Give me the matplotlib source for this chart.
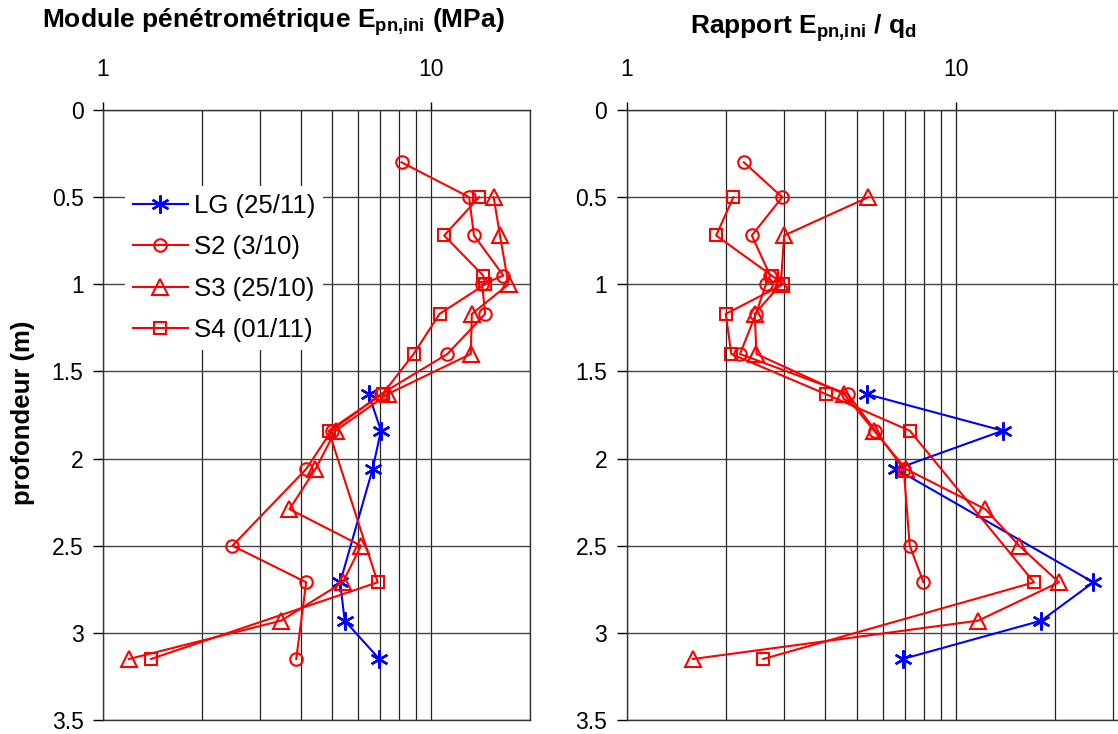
import numpy as np
import matplotlib
matplotlib.use("Agg")
import matplotlib.pyplot as plt
from matplotlib.ticker import LogLocator, FuncFormatter, NullFormatter, FixedLocator

plt.rcParams['font.family'] = ['Liberation Sans', 'DejaVu Sans']
plt.rcParams['mathtext.fontset'] = 'custom'
plt.rcParams['mathtext.rm'] = 'Liberation Sans'
plt.rcParams['mathtext.bf'] = 'Liberation Sans:bold'
plt.rcParams['mathtext.it'] = 'Liberation Sans:italic'

# ---------------- data ----------------
LG_label = "LG (25/11)"
LG_depth = [1.63, 1.84, 2.06, 2.71, 2.93, 3.15]
LG_E = [6.45, 7.03, 6.63, 5.28, 5.45, 6.95]
LG_ratio = [5.36, 13.9, 6.59, 26.2, 18.2, 6.90]

S2_label = "S2 (3/10)"
S2_depth = [0.30, 0.50, 0.72, 0.95, 1.00, 1.17, 1.40, 1.63, 1.84, 2.06, 2.50, 2.71, 3.15]
S2_E = [8.12, 13.05, 13.5, 16.6, 14.3, 14.6, 11.2, 7.03, 4.97, 4.16, 2.48, 4.16, 3.88]
S2_ratio = [2.27, 2.97, 2.40, 2.73, 2.65, 2.47, 2.21, 4.70, 5.70, 6.95, 7.25, 7.98, np.nan]

S3_label = "S3 (25/10)"
S3_depth = [0.50, 0.72, 1.00, 1.17, 1.40, 1.63, 1.84, 2.06, 2.29, 2.50, 2.71, 2.93, 3.15]
S3_E = [15.5, 16.2, 17.2, 13.3, 13.2, 7.37, 5.11, 4.44, 3.70, 6.11, 5.38, 3.49, 1.20]
S3_ratio = [5.43, 3.01, 2.94, 2.45, 2.48, 4.58, 5.65, 7.06, 12.3, 15.6, 20.6, 11.7, 1.59]

S4_label = "S4 (01/11)"
S4_depth = [0.50, 0.72, 0.95, 1.00, 1.17, 1.40, 1.63, 1.84, 2.71, 3.15]
S4_E = [14.0, 10.95, 14.4, 14.6, 10.6, 8.84, 7.11, 4.87, 6.87, 1.40]
S4_ratio = [2.11, 1.87, 2.76, 2.99, 2.00, 2.08, 4.03, 7.25, 17.3, 2.60]

depth_ticks = [0, 0.5, 1, 1.5, 2, 2.5, 3, 3.5]
depth_tick_labels = ["0", "0.5", "1", "1.5", "2", "2.5", "3", "3.5"]

title_left = r"Module pénétrométrique $\mathbf{E}_{\mathbf{pn{,}ini}}$ (MPa)"
title_right = r"Rapport $\mathbf{E}_{\mathbf{pn{,}ini}}$ / $\mathbf{q}_{\mathbf{d}}$"
ylabel = "profondeur (m)"

# ---------------- figure ----------------
W, H = 1118, 734
fig = plt.figure(figsize=(W / 100, H / 100), dpi=100)

DEC = 329.0  # pixels per decade
ax1 = fig.add_axes([103 / W, 1 - 720 / H, (530 - 103) / W, 610 / H])
ax2 = fig.add_axes([626.7 / W, 1 - 720 / H, DEC * np.log10(40) / W, 610 / H])

RED = '#FF0000'
BLUE = '#0000FF'
ast = (6, 2, 0)

def draw(ax, lg, s2, s3, s4, xmax):
    ax.plot(lg, LG_depth, color=BLUE, lw=1.5, marker=ast, ms=13, mew=1.7,
            label=LG_label, zorder=3)
    ax.plot(s2, S2_depth, color=RED, lw=1.5, marker='o', ms=9, mfc='none',
            mec=RED, mew=1.5, label=S2_label, zorder=3)
    ax.plot(s3, S3_depth, color=RED, lw=1.5, marker='^', ms=11, mfc='none',
            mec=RED, mew=1.5, label=S3_label, zorder=3)
    ax.plot(s4, S4_depth, color=RED, lw=1.5, marker='s', ms=9, mfc='none',
            mec=RED, mew=1.5, label=S4_label, zorder=3)
    ax.set_xscale('log')
    ax.set_xlim(1, xmax)
    ax.set_ylim(3.5, 0)
    ax.xaxis.tick_top()
    ax.xaxis.set_major_locator(LogLocator(base=10))
    ax.xaxis.set_minor_locator(LogLocator(base=10, subs=np.arange(2, 10)))
    ax.xaxis.set_major_formatter(FuncFormatter(lambda v, p: f"{v:g}"))
    ax.xaxis.set_minor_formatter(NullFormatter())
    ax.yaxis.set_major_locator(FixedLocator(depth_ticks))
    ax.set_yticklabels(depth_tick_labels)
    ax.tick_params(axis='x', which='major', direction='out', length=6,
                   width=1, pad=15, labelsize=16.5, top=True, bottom=False)
    ax.tick_params(axis='x', which='minor', length=0, top=False, bottom=False)
    ax.tick_params(axis='y', which='major', direction='out', length=7,
                   width=1, pad=7, labelsize=16.5, right=False)
    ax.grid(True, which='both', axis='x', color='#222222', lw=0.9, zorder=0)
    ax.grid(True, which='major', axis='y', color='#444444', lw=1.0, zorder=0)
    for s in ax.spines.values():
        s.set_color('#333333')
        s.set_linewidth(1.0)
    ax.set_axisbelow(True)

draw(ax1, LG_E, S2_E, S3_E, S4_E, 20)
draw(ax2, LG_ratio, S2_ratio, S3_ratio, S4_ratio, 40)

leg = ax1.legend(loc='upper left', bbox_to_anchor=(125 / W, 1 - 186 / H),
                 bbox_transform=fig.transFigure, fontsize=18.5,
                 frameon=True, fancybox=False, framealpha=1,
                 facecolor='white', edgecolor='none',
                 handlelength=2.15, handletextpad=0.25, labelspacing=0.68,
                 borderpad=0.3, borderaxespad=0)
leg.set_zorder(5)

fig.text(273 / W, 1 - 22 / H, title_left, ha='center', va='center',
         fontsize=19, fontweight='bold')
fig.text(803 / W, 1 - 28 / H, title_right, ha='center', va='center',
         fontsize=19, fontweight='bold')
fig.text(23 / W, 1 - 413 / H, ylabel, rotation=90, ha='center', va='center',
         fontsize=18.5, fontweight='bold')

fig.savefig('out.png', dpi=100)
